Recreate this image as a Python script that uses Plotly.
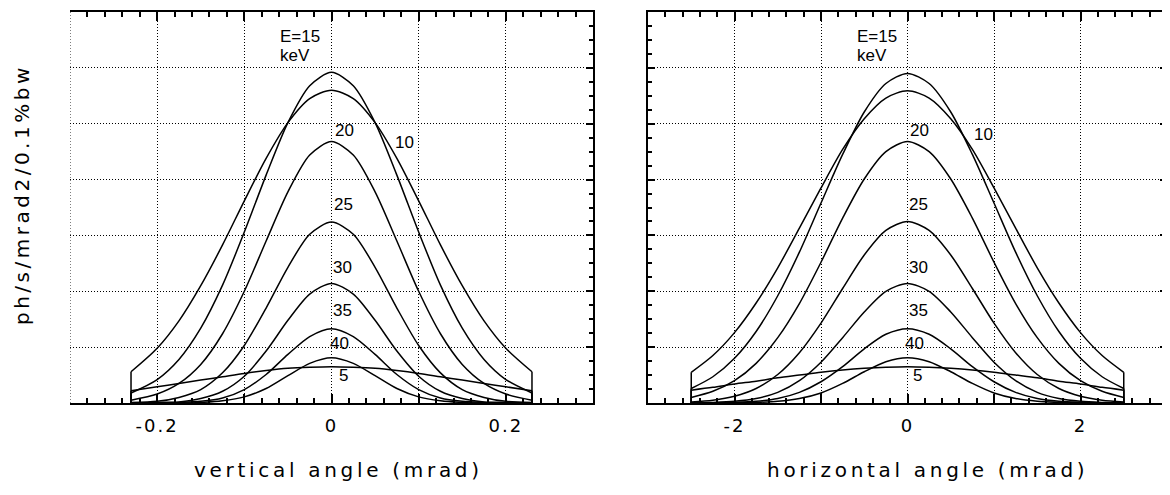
import plotly.graph_objects as go

# ---------------- data ----------------
labels = ["10", "15", "20", "25", "30", "35", "40", "5"]

# vertical angle profiles, half profile for angle >= 0 (mrad), symmetric
v_angle = [0, 0.025, 0.05, 0.075, 0.1, 0.125, 0.15, 0.175, 0.2, 0.23]
v_E10 = [5.60, 5.45, 5.02, 4.38, 3.62, 2.83, 2.10, 1.47, 0.98, 0.56]
v_E15 = [5.92, 5.68, 5.02, 4.08, 3.06, 2.11, 1.34, 0.78, 0.42, 0.18]
v_E20 = [4.68, 4.44, 3.78, 2.90, 2.00, 1.24, 0.69, 0.35, 0.16, 0.05]
v_E25 = [3.24, 3.02, 2.43, 1.70, 1.03, 0.54, 0.24, 0.10, 0.03, 0.01]
v_E30 = [2.14, 1.95, 1.48, 0.93, 0.48, 0.21, 0.08, 0.02, 0.01, 0.00]
v_E35 = [1.33, 1.19, 0.87, 0.51, 0.24, 0.09, 0.03, 0.01, 0.00, 0.00]
v_E40 = [0.81, 0.71, 0.49, 0.26, 0.11, 0.04, 0.01, 0.00, 0.00, 0.00]
v_E5 = [0.65, 0.64, 0.62, 0.58, 0.53, 0.47, 0.41, 0.35, 0.29, 0.22]

# horizontal angle profiles, half profile for angle >= 0 (mrad), symmetric
h_angle = [0, 0.25, 0.5, 0.75, 1.0, 1.25, 1.5, 1.75, 2.0, 2.25, 2.5]
h_E10 = [5.59, 5.46, 5.09, 4.54, 3.85, 3.13, 2.42, 1.79, 1.26, 0.85, 0.55]
h_E15 = [5.90, 5.72, 5.21, 4.45, 3.58, 2.70, 1.92, 1.28, 0.80, 0.47, 0.26]
h_E20 = [4.68, 4.50, 4.01, 3.31, 2.52, 1.78, 1.17, 0.71, 0.40, 0.21, 0.10]
h_E25 = [3.25, 3.09, 2.65, 2.05, 1.43, 0.90, 0.51, 0.26, 0.12, 0.05, 0.02]
h_E30 = [2.14, 2.00, 1.63, 1.17, 0.73, 0.40, 0.19, 0.08, 0.03, 0.01, 0.00]
h_E35 = [1.33, 1.23, 0.97, 0.65, 0.38, 0.19, 0.08, 0.03, 0.01, 0.00, 0.00]
h_E40 = [0.81, 0.74, 0.56, 0.35, 0.18, 0.08, 0.03, 0.01, 0.00, 0.00, 0.00]
h_E5 = [0.65, 0.64, 0.62, 0.59, 0.55, 0.50, 0.45, 0.39, 0.34, 0.28, 0.23]

v_ticks = [-0.2, -0.1, 0, 0.1, 0.2]
v_ticktext = ["-0.2", "", "0", "", "0.2"]
h_ticks = [-2, -1, 0, 1, 2]
h_ticktext = ["-2", "", "0", "", "2"]

v_series = [v_E10, v_E15, v_E20, v_E25, v_E30, v_E35, v_E40, v_E5]
h_series = [h_E10, h_E15, h_E20, h_E25, h_E30, h_E35, h_E40, h_E5]

# ---------------- styling / layout ----------------
OFF = 8                      # page body margin
W, H = 1170 - OFF, 495 - OFF
L_X0, L_X1 = 70, 593
R_X0, R_X1 = 648, 1167
Y_TOP, Y_BOT = 12, 403


def px_x(p):
    return (p - OFF) / W


def px_y(p):
    return 1 - (p - OFF) / H


def mirror(xs, ys):
    fx = [-a for a in reversed(xs[1:])] + list(xs)
    fy = list(reversed(ys[1:])) + list(ys)
    return fx, fy


def spaced(t, sp="2px"):
    return f'<span style="letter-spacing:{sp}">{t}</span>' if t else ""


fig = go.Figure()
line = dict(color="black", width=1.5)

for xs, series, xa, ya in [(v_angle, v_series, "x", "y"), (h_angle, h_series, "x2", "y2")]:
    for ys in series:
        fx, fy = mirror(xs, ys)
        fig.add_trace(go.Scatter(x=fx, y=fy, mode="lines", line=dict(line, shape="spline", smoothing=0.8),
                                 xaxis=xa, yaxis=ya, showlegend=False, hoverinfo="skip"))
        for sgn in (-1, 1):
            fig.add_trace(go.Scatter(x=[sgn * xs[-1], sgn * xs[-1]], y=[0, ys[-1]], mode="lines",
                                     line=line, xaxis=xa, yaxis=ya, showlegend=False, hoverinfo="skip"))

DOT = "1px,2px"
tickfont = dict(family="DejaVu Sans", size=18, color="black")
common_x = dict(showline=True, linecolor="black", linewidth=1.5, ticks="inside", ticklen=9,
                tickcolor="black", tickwidth=1.5, mirror="ticks", showgrid=True, gridcolor="black",
                griddash=DOT, gridwidth=1, zeroline=False, tickfont=tickfont, tickmode="array",
                ticklabelstandoff=6)
common_y = dict(showline=True, linecolor="black", linewidth=1.5, ticks="inside", ticklen=7,
                tickcolor="black", tickwidth=1.5, showgrid=True, gridcolor="black", griddash=DOT,
                gridwidth=1, zeroline=False, showticklabels=False, range=[0, 7], dtick=1, tick0=0,
                minor=dict(dtick=0.25, ticks="inside", ticklen=4, tickcolor="black", tickwidth=1.5,
                           showgrid=False))

fig.update_layout(
    width=W, height=H, margin=dict(l=0, r=0, t=0, b=0),
    paper_bgcolor="white", plot_bgcolor="white",
    xaxis=dict(common_x, domain=[px_x(L_X0), px_x(L_X1)], range=[-0.3, 0.3], anchor="y",
               tickvals=v_ticks, ticktext=[spaced(t) for t in v_ticktext],
               minor=dict(dtick=0.02, tick0=0, ticks="inside", ticklen=5, tickcolor="black",
                          tickwidth=1.5, showgrid=False)),
    yaxis=dict(common_y, domain=[px_y(Y_BOT), px_y(Y_TOP)], anchor="x", side="right", mirror=False),
    xaxis2=dict(common_x, domain=[px_x(R_X0), px_x(R_X1)], range=[-3, 3], anchor="y2",
                tickvals=h_ticks, ticktext=[spaced(t) for t in h_ticktext],
                minor=dict(dtick=0.2, tick0=0, ticks="inside", ticklen=5, tickcolor="black",
                           tickwidth=1.5, showgrid=False)),
    yaxis2=dict(common_y, domain=[px_y(Y_BOT), px_y(Y_TOP)], anchor="x2", mirror="ticks"),
)

# dotted left border of the left panel
fig.add_shape(type="line", xref="x", yref="y domain", x0=-0.3, x1=-0.3, y0=0, y1=1,
              line=dict(color="black", width=1, dash=DOT))

# curve labels
lab_font = dict(family="Liberation Sans", size=17, color="black")
v_label_pos = {"E=15": (-0.06, 6.57), "keV": (-0.06, 6.23), "20": (0.003, 4.87), "10": (0.072, 4.66),
               "25": (0.002, 3.56), "30": (0.001, 2.43), "35": (0.001, 1.66), "40": (-0.003, 1.06),
               "5": (0.007, 0.5)}
h_label_pos = {"E=15": (-0.59, 6.57), "keV": (-0.6, 6.23), "20": (0.02, 4.87), "10": (0.76, 4.8),
               "25": (0.01, 3.56), "30": (0.01, 2.43), "35": (0.01, 1.66), "40": (-0.04, 1.06),
               "5": (0.05, 0.5)}
for pos, xr, yr in [(v_label_pos, "x", "y"), (h_label_pos, "x2", "y2")]:
    for txt, (lx, ly) in pos.items():
        fig.add_annotation(x=lx, y=ly, xref=xr, yref=yr, text=txt, showarrow=False,
                           xanchor="left", yanchor="middle", font=lab_font, borderpad=0)

title_font = dict(family="DejaVu Sans", size=20, color="black")
fig.add_annotation(x=px_x(338), y=px_y(470), xref="paper", yref="paper", showarrow=False,
                   text=spaced("vertical angle (mrad)", "3.7px"),
                   font=title_font, xanchor="center", yanchor="middle")
fig.add_annotation(x=px_x(928), y=px_y(470), xref="paper", yref="paper", showarrow=False,
                   text=spaced("horizontal angle (mrad)", "3.7px"),
                   font=title_font, xanchor="center", yanchor="middle")
fig.add_annotation(x=px_x(22), y=px_y(195), xref="paper", yref="paper", showarrow=False,
                   text=spaced("ph/s/mrad2/0.1%bw", "3.5px"),
                   font=title_font, textangle=-90, xanchor="center", yanchor="middle")

fig.write_html("out.html")
